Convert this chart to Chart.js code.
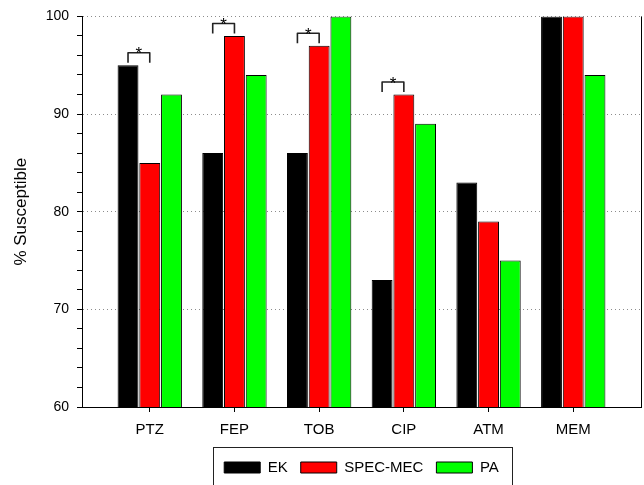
<!DOCTYPE html>
<html>
<head>
<meta charset="utf-8">
<script src="https://cdn.jsdelivr.net/npm/chart.js@4.4.1/dist/chart.umd.min.js"></script>
<style>
  html, body { margin: 0; padding: 0; background: #fff; }
</style>
</head>
<body>
<canvas id="chart" width="644" height="485"></canvas>
<script>
// Data
const drugs = ['PTZ', 'FEP', 'TOB', 'CIP', 'ATM', 'MEM'];
const ekValues = [95, 86, 86, 73, 83, 100];
const specMecValues = [85, 98, 97, 92, 79, 100];
const paValues = [92, 94, 100, 89, 75, 94];
// EK vs SPEC-MEC marked with *
const significant = [true, true, true, true, false, false];
const yTicks = [60, 70, 80, 90, 100];

const FONT = '"Liberation Sans", Arial, sans-serif';

function points(values) {
    return values.map((v, i) => ({ x: i + 1, y: v }));
}

// frame on the right, significance brackets, border round the legend
const extras = {
    id: 'extras',
    afterDatasetsDraw(chart) {
        const ctx = chart.ctx;
        const area = chart.chartArea;
        ctx.save();
        ctx.strokeStyle = '#000';
        ctx.lineWidth = 1;
        ctx.beginPath();
        ctx.moveTo(Math.round(area.right) + 0.5, area.top);
        ctx.lineTo(Math.round(area.right) + 0.5, area.bottom);
        ctx.stroke();

        const ek = chart.getDatasetMeta(0).data;
        const sm = chart.getDatasetMeta(1).data;
        ctx.lineWidth = 1.6;
        ctx.strokeStyle = '#222';
        ctx.lineJoin = 'round';
        ctx.fillStyle = '#000';
        ctx.font = '17px ' + FONT;
        ctx.textAlign = 'center';
        significant.forEach((s, i) => {
            if (!s) return;
            const x1 = ek[i].x, x2 = sm[i].x;
            const top = Math.min(ek[i].y, sm[i].y);
            const yTop = top - 12.5, yLeg = top - 2.5;
            ctx.beginPath();
            ctx.moveTo(x1, yLeg);
            ctx.lineTo(x1, yTop);
            ctx.lineTo(x2, yTop);
            ctx.lineTo(x2, yLeg);
            ctx.stroke();
            ctx.fillText('*', (x1 + x2) / 2, yTop + 2);
        });
        ctx.restore();
    },
    afterDraw(chart) {
        const boxes = chart.legend.legendHitBoxes;
        if (!boxes || !boxes.length) return;
        const first = boxes[0], last = boxes[boxes.length - 1];
        const ctx = chart.ctx;
        const left = Math.round(first.left - 11) + 0.5;
        const right = Math.round(last.left + last.width + 13) + 0.5;
        const top = Math.round(first.top - 13.5) + 0.5;
        ctx.save();
        ctx.strokeStyle = '#222';
        ctx.lineWidth = 1;
        ctx.strokeRect(left, top, right - left, 100);
        ctx.restore();
    }
};

new Chart(document.getElementById('chart'), {
    type: 'bar',
    data: {
        datasets: [
            { label: 'EK', data: points(ekValues), backgroundColor: '#000000' },
            { label: 'SPEC-MEC', data: points(specMecValues), backgroundColor: '#ff0000' },
            { label: 'PA', data: points(paValues), backgroundColor: '#00ff00' }
        ]
    },
    options: {
        responsive: false,
        animation: false,
        datasets: {
            bar: {
                borderColor: '#000',
                borderWidth: 1,
                barPercentage: 0.96,
                categoryPercentage: 0.77
            }
        },
        layout: { padding: { left: 0, right: 3, top: 15, bottom: 0 } },
        plugins: {
            tooltip: { enabled: false },
            legend: {
                position: 'bottom',
                fullSize: false,
                labels: {
                    boxWidth: 36,
                    boxHeight: 11,
                    padding: 13,
                    color: '#000',
                    font: { family: FONT, size: 15 }
                }
            }
        },
        scales: {
            x: {
                type: 'linear',
                min: 0.2,
                max: 6.8,
                offset: false,
                afterBuildTicks: s => { s.ticks = drugs.map((d, i) => ({ value: i + 1 })); },
                afterFit: s => { s.height = 40; },
                ticks: {
                    callback: v => drugs[v - 1] || '',
                    autoSkip: false,
                    maxRotation: 0,
                    padding: 9,
                    color: '#000',
                    font: { family: FONT, size: 15 }
                },
                grid: { offset: false, drawOnChartArea: false, tickLength: 5, tickColor: '#000', color: '#000' },
                border: { color: '#000', width: 1 }
            },
            y: {
                min: 60,
                max: 100,
                afterFit: s => { s.width = 82; },
                ticks: {
                    stepSize: 2,
                    autoSkip: false,
                    callback: v => yTicks.includes(v) ? v : '',
                    padding: 8,
                    color: '#000',
                    font: { family: FONT, size: 14 }
                },
                grid: {
                    color: c => (c.tick && yTicks.includes(c.tick.value) && c.tick.value > 60) ? '#8c8c8c' : 'rgba(0,0,0,0)',
                    tickColor: '#000',
                    tickLength: 5
                },
                border: { color: '#000', width: 1, dash: [1, 3] },
                title: {
                    display: true,
                    text: '% Susceptible',
                    color: '#000',
                    font: { family: FONT, size: 17 },
                    padding: { top: 11, bottom: 0 }
                }
            }
        }
    },
    plugins: [extras]
});
</script>
</body>
</html>
